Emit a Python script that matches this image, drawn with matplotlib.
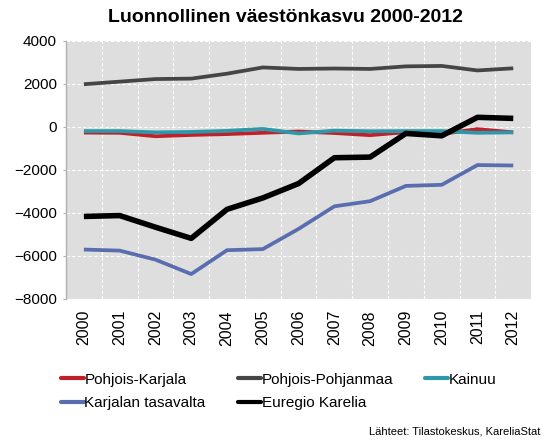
import numpy as np
import matplotlib
matplotlib.use("Agg")
import matplotlib.pyplot as plt
from matplotlib.ticker import MultipleLocator, FixedLocator

plt.rcParams['font.family'] = ['Liberation Sans', 'DejaVu Sans']

years = [str(y) for y in range(2000, 2013)]

pohjois_karjala = [-260, -270, -430, -370, -330, -270, -210, -280, -380, -240, -320, -100, -250]
pohjois_pohjanmaa = [1990, 2110, 2230, 2250, 2480, 2770, 2700, 2720, 2700, 2820, 2840, 2630, 2730]
kainuu = [-190, -190, -250, -230, -180, -90, -300, -170, -200, -190, -190, -270, -250]
karjalan_tasavalta = [-5700, -5750, -6170, -6840, -5730, -5680, -4740, -3690, -3450, -2740, -2690, -1770, -1790]
euregio_karelia = [-4160, -4120, -4660, -5180, -3830, -3300, -2630, -1430, -1400, -300, -410, 450, 400]

series = [
    ("Pohjois-Karjala", pohjois_karjala, "#c0202a", 2.7),
    ("Pohjois-Pohjanmaa", pohjois_pohjanmaa, "#454545", 2.7),
    ("Kainuu", kainuu, "#2e98aa", 2.7),
    ("Karjalan tasavalta", karjalan_tasavalta, "#5a6eaf", 2.7),
    ("Euregio Karelia", euregio_karelia, "#000000", 4.0),
]

fig = plt.figure(figsize=(5.47, 4.48), dpi=100)
ax = fig.add_axes([0.1207, 0.3326, 0.971 - 0.1207, 0.9085 - 0.3326])
ax.set_facecolor("#dedede")

x = np.arange(len(years))
for name, vals, col, lw in series:
    ax.plot(x, vals, color=col, lw=lw, label=name, solid_capstyle='butt')

ax.set_xlim(-0.5, len(years) - 0.5)
ax.set_ylim(-8000, 4000)
ax.yaxis.set_major_locator(MultipleLocator(2000))
ax.set_xticks(x)
ax.set_xticklabels(years, rotation=90, fontsize=11.5)
ax.xaxis.set_minor_locator(FixedLocator(np.arange(0.5, len(years) - 0.5, 1)))
ax.tick_params(axis='x', which='both', length=0, pad=8)
ax.tick_params(axis='y', labelsize=11, length=2.5, color="#b0b0b0", pad=4)

ax.grid(True, axis='y', which='major', color='white', ls=(0, (3, 2)), lw=0.8)
ax.grid(True, axis='x', which='minor', color='white', ls=(0, (3, 2)), lw=0.8)
ax.set_axisbelow(True)

for s in ['top', 'right', 'bottom']:
    ax.spines[s].set_visible(False)
ax.spines['left'].set_color("#b0b0b0")
ax.spines['left'].set_linewidth(1.0)

fig.text(0.522, 0.961, "Luonnollinen väestönkasvu 2000-2012", ha='center', va='center',
         fontsize=14, fontweight='bold')

# legend order: filled row by row like the original
handles, labels = ax.get_legend_handles_labels()
order = [0, 3, 1, 4, 2]
leg = fig.legend([handles[i] for i in order], [labels[i] for i in order],
                 loc='upper left', bbox_to_anchor=(0.1, 0.182), ncol=3,
                 frameon=False, fontsize=11, handlelength=1.5, handletextpad=0.05,
                 columnspacing=2.1, labelspacing=0.62, borderaxespad=0)
for h in leg.get_lines():
    h.set_linewidth(3)
    h.set_solid_capstyle('round')

fig.text(0.988, 0.025, "Lähteet: Tilastokeskus, KareliaStat", ha='right', va='bottom', fontsize=8)

fig.savefig("out.png", dpi=100)
